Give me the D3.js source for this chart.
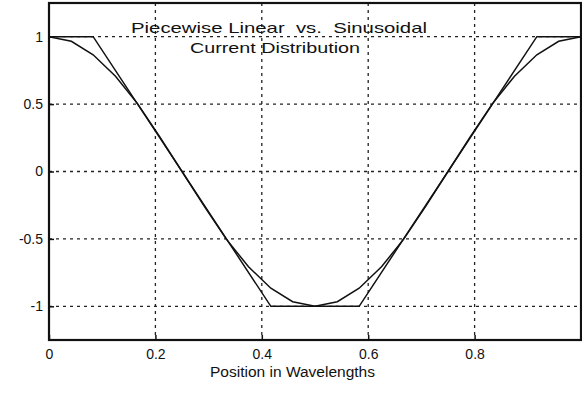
<!DOCTYPE html>
<html>
<head>
<meta charset="utf-8">
<script src="https://cdn.jsdelivr.net/npm/d3@7"></script>
<style>
  body { margin: 0; background: #fff; }
  text { font-family: "Liberation Sans", Arial, sans-serif; fill: #111; }
  .titolo { white-space: pre; }
</style>
</head>
<body>
<svg width="582" height="395"></svg>
<script>
// piecewise linear current (corner points)
var linX = [0, 0.083, 0.417, 0.583, 0.917, 1];
var linY = [1, 1, -1, -1, 1, 1];

// sinusoidal current, sampled every 1/24 wavelength
var sinX = [0, 0.042, 0.083, 0.125, 0.167, 0.208, 0.25, 0.292, 0.333, 0.375, 0.417, 0.458, 0.5,
            0.542, 0.583, 0.625, 0.667, 0.708, 0.75, 0.792, 0.833, 0.875, 0.917, 0.958, 1];
var sinY = [1, 0.966, 0.866, 0.707, 0.5, 0.259, 0, -0.259, -0.5, -0.707, -0.866, -0.966, -1,
            -0.966, -0.866, -0.707, -0.5, -0.259, 0, 0.259, 0.5, 0.707, 0.866, 0.966, 1];

var xTicks = [0, 0.2, 0.4, 0.6, 0.8, 1];
var yTicks = [-1, -0.5, 0, 0.5, 1];

var titleLines = ["Piecewise Linear  vs.  Sinusoidal", "Current Distribution"];
var xLabel = "Position in Wavelengths";

// riquadro del grafico
var boxLeft = 49, boxRight = 581, boxTop = 3, boxBottom = 340;

var svg = d3.select("svg");

var x = d3.scaleLinear().domain([0, 1]).range([boxLeft, boxRight]);
var y = d3.scaleLinear().domain([-1.25, 1.25]).range([boxBottom, boxTop]);

// griglia
svg.append("g").selectAll("line").data(xTicks.slice(1, -1)).enter().append("line")
   .attr("x1", function(d){return x(d)}).attr("x2", function(d){return x(d)})
   .attr("y1", boxTop).attr("y2", boxBottom)
   .attr("stroke", "#222").attr("stroke-width", 1.3).attr("stroke-dasharray", "3,4");

svg.append("g").selectAll("line").data(yTicks).enter().append("line")
   .attr("y1", function(d){return y(d)}).attr("y2", function(d){return y(d)})
   .attr("x1", boxLeft).attr("x2", boxRight)
   .attr("stroke", "#222").attr("stroke-width", 1.3).attr("stroke-dasharray", "3,4");

// assi (trattino normale al posto del segno meno)
var xAxis = svg.append("g").attr("transform", "translate(0," + boxBottom + ")")
   .call(d3.axisBottom(x).tickValues(xTicks).tickSizeInner(-5).tickSizeOuter(0).tickPadding(9)
         .tickFormat(function(d){return d == 1 ? "" : String(d)}));
var yAxis = svg.append("g").attr("transform", "translate(" + boxLeft + ",0)")
   .call(d3.axisLeft(y).tickValues(yTicks).tickSizeInner(-5).tickSizeOuter(0).tickPadding(6)
         .tickFormat(function(d){return String(d)}));

[xAxis, yAxis].forEach(function(a){
  a.select(".domain").remove();
  a.selectAll("line").attr("stroke", "#111").attr("stroke-width", 1.5);
  a.selectAll("text").style("font-size", "14px")
   .style("font-family", "'Liberation Sans', Arial, sans-serif").attr("fill", "#111");
});

// cornice
svg.append("rect")
   .attr("x", boxLeft).attr("y", boxTop)
   .attr("width", boxRight - boxLeft).attr("height", boxBottom - boxTop)
   .attr("fill", "none").attr("stroke", "#111").attr("stroke-width", 2.2);

// curve
var line = d3.line().x(function(d){return x(d[0])}).y(function(d){return y(d[1])});

svg.append("path")
   .datum(linX.map(function(v, i){return [v, linY[i]]}))
   .attr("d", line).attr("fill", "none").attr("stroke", "#111").attr("stroke-width", 1.5);

svg.append("path")
   .datum(sinX.map(function(v, i){return [v, sinY[i]]}))
   .attr("d", line).attr("fill", "none").attr("stroke", "#111").attr("stroke-width", 1.5);

// titolo
svg.append("text").attr("class", "titolo").attr("x", 131).attr("y", 33)
   .attr("textLength", 296).attr("lengthAdjust", "spacingAndGlyphs")
   .style("font-size", "15px").text(titleLines[0]);
svg.append("text").attr("class", "titolo").attr("x", 190).attr("y", 53)
   .attr("textLength", 170).attr("lengthAdjust", "spacingAndGlyphs")
   .style("font-size", "15px").text(titleLines[1]);

// etichetta asse x
svg.append("text").attr("x", 210).attr("y", 377)
   .attr("textLength", 165).attr("lengthAdjust", "spacingAndGlyphs")
   .style("font-size", "14px").text(xLabel);
</script>
</body>
</html>
